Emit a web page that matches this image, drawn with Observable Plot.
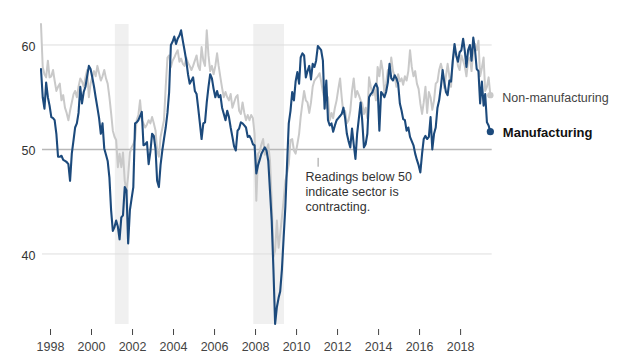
<!DOCTYPE html>
<html><head><meta charset="utf-8">
<script src="https://cdn.jsdelivr.net/npm/d3@7"></script>
<script src="https://cdn.jsdelivr.net/npm/@observablehq/plot@0.6"></script>
<style>
body{margin:0;background:#fff;}
#chart{width:632px;height:361px;}
</style>
</head><body><div id="chart"></div>
<script>
// Monthly ISM readings, first value = July 1997, last = June 2019
const firstYear = 1997, firstMonth = 6; // July (0-based)
const manufacturing = [
  57.7, 55.0, 53.9, 56.4, 55.0, 54.2,                               // 1997 Jul-Dec
  53.1, 53.0, 52.8, 51.5, 49.3, 49.3, 49.4, 49.0, 48.9, 48.8, 48.6, 47.0, // 1998
  49.6, 50.9, 52.1, 52.5, 53.5, 56.0, 54.4, 55.5, 56.0, 57.0, 58.0, 57.7, // 1999
  56.9, 56.0, 55.0, 54.0, 53.0, 51.5, 52.5, 50.1, 49.5, 48.9, 47.3, 44.2, // 2000
  42.2, 42.6, 43.2, 42.6, 41.4, 43.5, 43.7, 46.4, 46.1, 41.0, 44.2, 45.3, // 2001
  46.4, 52.5, 52.6, 52.8, 53.2, 53.6, 50.4, 50.5, 50.7, 48.6, 49.8, 51.5, // 2002
  51.3, 50.0, 47.0, 46.4, 48.5, 49.9, 51.0, 52.1, 53.5, 55.5, 60.0, 60.3, // 2003
  60.8, 60.1, 60.6, 60.9, 61.4, 60.4, 59.5, 58.5, 57.2, 56.3, 56.6, 56.9, // 2004
  55.6, 55.3, 54.0, 52.5, 51.0, 52.5, 52.6, 54.5, 56.0, 57.2, 56.8, 55.8, // 2005
  55.0, 55.6, 55.0, 55.2, 54.0, 53.4, 52.8, 53.7, 53.1, 52.1, 51.2, 50.3, // 2006
  49.9, 51.8, 52.0, 52.6, 52.5, 52.3, 52.1, 51.2, 51.3, 51.0, 50.5, 50.4, // 2007
  47.7, 48.5, 49.0, 49.6, 49.9, 50.2, 49.9, 48.9, 46.0, 43.2, 38.5, 33.3, // 2008
  34.9, 35.8, 36.4, 38.5, 41.5, 44.5, 48.5, 52.5, 53.7, 55.5, 54.7, 56.5, // 2009
  57.4, 56.3, 58.8, 59.2, 59.0, 56.9, 57.5, 58.0, 56.7, 58.2, 57.9, 58.5, // 2010
  59.9, 59.7, 59.5, 58.5, 53.9, 56.6, 52.8, 52.3, 52.5, 51.7, 52.3, 52.8, // 2011
  53.0, 53.2, 53.4, 54.0, 53.0, 51.5, 50.8, 50.2, 52.0, 50.5, 49.1, 51.5, // 2012
  53.0, 54.5, 52.8, 50.2, 50.5, 51.5, 55.0, 55.3, 55.5, 56.0, 56.3, 55.9, // 2013
  51.8, 55.5, 55.3, 55.0, 55.5, 56.4, 58.2, 56.8, 56.6, 57.1, 56.8, 56.3, // 2014
  54.4, 53.7, 52.9, 52.8, 51.8, 52.1, 51.2, 50.8, 50.4, 49.6, 49.0, 48.5, // 2015
  47.8, 49.6, 51.0, 51.3, 51.0, 51.2, 53.1, 50.0, 51.5, 52.1, 54.0, 54.7, // 2016
  56.0, 57.6, 56.5, 55.5, 55.2, 56.6, 56.5, 58.5, 60.1, 59.0, 58.4, 59.3, // 2017
  59.5, 60.6, 59.5, 57.9, 59.5, 60.0, 58.5, 60.7, 59.5, 57.7, 57.5, 54.4, // 2018
  56.5, 54.2, 55.3, 52.6, 52.3, 51.7                                // 2019 Jan-Jun
];
const nonManufacturing = [
  62.0, 57.9, 57.2, 56.9, 58.5, 56.9,                               // 1997 Jul-Dec
  57.0, 57.6, 56.6, 55.6, 56.0, 56.3, 54.7, 55.2, 54.0, 53.5, 52.8, 53.7, // 1998
  54.5, 55.3, 55.6, 55.0, 56.0, 56.8, 56.5, 56.0, 56.9, 57.6, 55.0, 56.3, // 1999
  56.9, 57.5, 57.0, 58.0, 57.3, 56.6, 57.0, 57.6, 56.8, 56.3, 55.0, 53.5, // 2000
  51.8, 51.2, 50.9, 48.3, 49.6, 48.3, 49.7, 47.0, 46.0, 47.5, 49.7, 50.2, // 2001
  50.5, 51.0, 52.8, 53.3, 54.7, 52.8, 52.5, 52.1, 52.4, 52.8, 52.5, 53.1, // 2002
  52.5, 51.8, 49.9, 49.3, 51.2, 52.0, 52.8, 56.0, 58.8, 59.0, 57.9, 58.5, // 2003
  58.8, 59.2, 59.5, 58.4, 58.7, 58.2, 58.0, 58.8, 58.3, 58.0, 57.6, 58.0, // 2004
  58.5, 59.0, 58.0, 57.6, 59.8, 58.5, 58.0, 61.4, 59.0, 57.5, 58.0, 57.2, // 2005
  58.0, 59.2, 58.0, 56.9, 55.9, 55.0, 55.5, 55.0, 54.7, 55.3, 54.0, 54.5, // 2006
  55.0, 55.2, 53.7, 53.4, 54.5, 53.5, 52.8, 53.3, 52.8, 53.3, 53.0, 51.5, // 2007
  45.1, 49.6, 49.8, 50.5, 51.0, 49.5, 50.0, 50.5, 48.9, 45.1, 39.7, 40.3, // 2008
  43.2, 40.6, 41.9, 43.5, 45.1, 47.0, 47.7, 48.6, 50.9, 51.0, 49.9, 49.6, // 2009
  50.5, 51.5, 53.1, 54.4, 55.6, 54.7, 54.5, 53.5, 54.5, 56.0, 56.6, 56.8, // 2010
  57.0, 57.3, 56.5, 55.5, 54.7, 54.0, 55.0, 52.8, 53.5, 53.0, 54.0, 54.7, // 2011
  55.8, 56.8, 55.0, 53.4, 53.7, 52.5, 52.8, 53.7, 55.6, 56.8, 55.0, 55.6, // 2012
  55.2, 54.7, 54.4, 53.4, 54.0, 53.0, 56.9, 56.0, 55.2, 55.8, 54.7, 57.9, // 2013
  57.0, 58.5, 57.6, 55.3, 56.3, 57.6, 57.0, 58.8, 57.5, 57.0, 56.0, 57.2, // 2014
  56.5, 56.8, 56.2, 57.0, 56.6, 57.5, 59.5, 57.9, 57.0, 57.5, 56.3, 55.8, // 2015
  54.4, 53.4, 54.5, 56.0, 53.5, 55.5, 55.0, 53.8, 54.7, 56.3, 56.5, 57.6, // 2016
  58.2, 57.5, 55.9, 57.0, 58.2, 57.0, 56.0, 58.5, 59.5, 59.2, 58.0, 57.6, // 2017
  59.0, 58.5, 58.0, 57.0, 58.5, 58.8, 57.5, 59.5, 60.1, 59.5, 60.4, 57.0, // 2018
  57.8, 58.8, 55.6, 56.0, 56.9, 55.2                                // 2019 Jan-Jun
];
const recessionStarts = ["2001-03-01", "2007-12-01"];
const recessionEnds   = ["2001-11-01", "2009-06-01"];
const yTicks = [40, 50, 60];
const xTickYears = [1998, 2000, 2002, 2004, 2006, 2008, 2010, 2012, 2014, 2016, 2018];
const seriesNames = ["Non-manufacturing", "Manufacturing"];
const noteText = "Readings below 50\nindicate sector is\ncontracting.";
const noteDate = "2010-06-10";
const noteValue = 48.0;
const noteTickDate = "2011-01-20";
const noteTickTop = 49.15;
const noteTickBottom = 48.3;
const yDomain = [32.77, 61.96];
const xDomain = ["1997-08-11", "2019-07-18"];

const monthDate = i => new Date(Date.UTC(firstYear, firstMonth + i, 15));
const toRows = (arr, name) => arr.map((v, i) => ({date: monthDate(i), value: v, series: name}));
const nonRows = toRows(nonManufacturing, seriesNames[0]);
const manRows = toRows(manufacturing, seriesNames[1]);
const recessions = recessionStarts.map((s, i) => ({start: new Date(s), end: new Date(recessionEnds[i])}));
const xTicks = xTickYears.map(y => new Date(Date.UTC(y, 0, 1)));
const lastNon = nonRows[nonRows.length - 1];
const lastMan = manRows[manRows.length - 1];

const blue = "#1c4a7c";
const gray = "#c9c9c9";
const font = "'Liberation Sans', Arial, sans-serif";

const chart = Plot.plot({
  width: 632,
  height: 361,
  marginTop: 24,
  marginBottom: 32,
  marginLeft: 42,
  marginRight: 140.3,
  style: {fontFamily: font, fontSize: "12.5px", background: "#fff", overflow: "visible"},
  x: {type: "utc", domain: xDomain.map(d => new Date(d))},
  y: {domain: yDomain},
  marks: [
    Plot.rect(recessions, {x1: "start", x2: "end", fill: "#f0f0f0", insetBottom: 5}),
    Plot.ruleY(yTicks.filter(t => t !== 50), {y: d => d, stroke: "#dedede", strokeWidth: 1}),
    Plot.ruleY(yTicks.filter(t => t === 50), {y: d => d, stroke: "#b8b8b8", strokeWidth: 1.6}),
    Plot.line(nonRows, {x: "date", y: "value", stroke: gray, strokeWidth: 2, curve: "linear"}),
    Plot.line(manRows, {x: "date", y: "value", stroke: blue, strokeWidth: 2.1, curve: "linear"}),
    Plot.dot([lastNon], {x: "date", y: "value", r: 3.2, fill: gray}),
    Plot.dot([lastMan], {x: "date", y: "value", r: 3.6, fill: blue}),
    Plot.text([lastNon], {x: "date", y: "value", text: "series", dx: 12, dy: 3, textAnchor: "start", fill: "#444", fontSize: 12.5}),
    Plot.text([lastMan], {x: "date", y: "value", text: "series", dx: 12.5, dy: 1, textAnchor: "start", fill: "#111", fontSize: 13, fontWeight: "bold"}),
    Plot.ruleX([{date: new Date(noteTickDate), top: noteTickTop, bottom: noteTickBottom}], {x: "date", y1: "top", y2: "bottom", stroke: "#999", strokeWidth: 1}),
    Plot.text([{date: new Date(noteDate), value: noteValue, text: noteText}], {x: "date", y: "value", text: "text", textAnchor: "start", lineAnchor: "top", lineHeight: 1.2, fill: "#333", fontSize: 12.5}),
    Plot.axisX(xTicks, {tickSize: 6, tickPadding: 7, tickFormat: d => String(d.getUTCFullYear()), fontSize: 12.5, color: "#444"}),
    Plot.axisY(yTicks, {tickSize: 0, tickPadding: 7, dy: 2, fontSize: 12.5, color: "#333"})
  ]
});
document.getElementById("chart").appendChild(chart);
</script>
</body></html>
